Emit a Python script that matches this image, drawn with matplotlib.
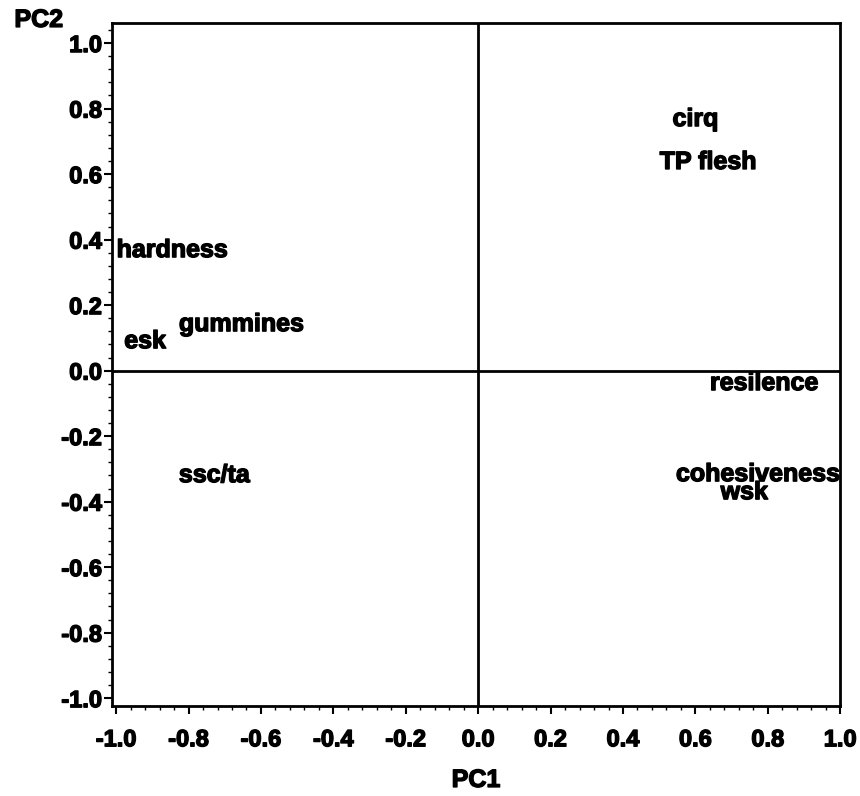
import matplotlib.pyplot as plt
import matplotlib.patheffects as pe
from matplotlib.ticker import MultipleLocator

plt.rcParams['font.family'] = ['Liberation Sans', 'DejaVu Sans']
plt.rcParams['font.weight'] = 'bold'

# loadings
labels = ['cirq', 'TP flesh', 'hardness', 'gummines', 'esk',
          'ssc/ta', 'resilence', 'cohesiveness', 'wsk']
pc1 = [0.60, 0.635, -0.845, -0.654, -0.92, -0.729, 0.79, 0.773, 0.735]
pc2 = [0.768, 0.637, 0.368, 0.142, 0.090, -0.319, -0.038, -0.316, -0.371]
ticks = [-1.0, -0.8, -0.6, -0.4, -0.2, 0.0, 0.2, 0.4, 0.6, 0.8, 1.0]

heavy = [pe.withStroke(linewidth=1.0, foreground='black')]

fig = plt.figure(figsize=(8.6, 7.96), dpi=100)
ax = fig.add_axes([0.130, 0.113, 0.847, 0.858])

for name, x, y in zip(labels, pc1, pc2):
    ax.text(x, y, name, ha='center', va='center', fontsize=18,
            fontweight='bold', path_effects=heavy)

ax.axhline(0, color='black', lw=2)
ax.axvline(0, color='black', lw=2)

ax.set_xlim(-1.012, 1.0)
ax.set_ylim(-1.024, 1.061)
ax.set_xticks(ticks)
ax.set_yticks(ticks)
ax.set_xticklabels([f'{t:.1f}' for t in ticks])
ax.set_yticklabels([f'{t:.1f}' for t in ticks])
ax.xaxis.set_minor_locator(MultipleLocator(0.04))
ax.yaxis.set_minor_locator(MultipleLocator(0.04))
ax.tick_params(which='major', length=6, width=1.5, labelsize=17)
ax.tick_params(axis='x', which='major', pad=10)
ax.tick_params(axis='y', which='major', pad=1)
ax.tick_params(which='minor', length=3, width=1)
for lab in ax.get_xticklabels() + ax.get_yticklabels():
    lab.set_path_effects(heavy)
for s in ax.spines.values():
    s.set_linewidth(2)

ax.set_xlabel('PC1', fontsize=18, fontweight='bold', labelpad=12,
              path_effects=heavy)
fig.text(0.045, 0.975, 'PC2', fontsize=18, fontweight='bold', ha='center',
         va='center', path_effects=heavy)

fig.savefig('out.png', dpi=100)
